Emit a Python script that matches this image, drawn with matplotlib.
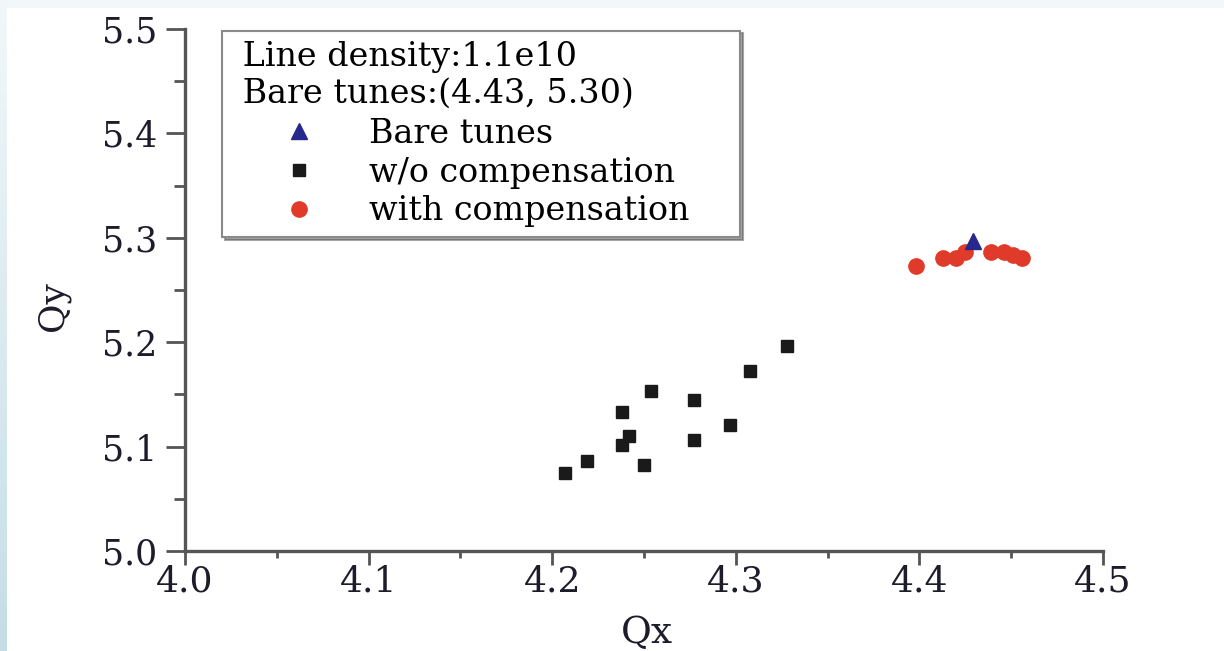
import numpy as np
import matplotlib
matplotlib.use("Agg")
import matplotlib.pyplot as plt
from matplotlib.patches import Rectangle
from matplotlib.ticker import MultipleLocator

# tune points
bare_qx = [4.429]
bare_qy = [5.297]

wo_qx = [4.207, 4.219, 4.238, 4.238, 4.242, 4.250, 4.254, 4.277, 4.277, 4.297, 4.308, 4.328]
wo_qy = [5.075, 5.086, 5.133, 5.102, 5.110, 5.082, 5.153, 5.145, 5.106, 5.121, 5.172, 5.196]

with_qx = [4.398, 4.413, 4.420, 4.425, 4.439, 4.446, 4.451, 4.456]
with_qy = [5.273, 5.281, 5.281, 5.286, 5.286, 5.286, 5.284, 5.281]

x_ticks = [4.0, 4.1, 4.2, 4.3, 4.4, 4.5]
y_ticks = [5.0, 5.1, 5.2, 5.3, 5.4, 5.5]

legend_title = " Line density:1.1e10\n Bare tunes:(4.43, 5.30)"

serif = "DejaVu Serif"

fig = plt.figure(figsize=(12.24, 6.51), dpi=100)
fig.patch.set_facecolor("white")
# pale blue strip along the top and the left side
fig.patches.append(Rectangle((0, 1 - 8 / 651), 1, 8 / 651, transform=fig.transFigure,
                             facecolor="#f2f8fa", edgecolor="none", zorder=-10))
strip = fig.add_axes([0, 0, 7 / 1224, 1])
grad = np.linspace(0, 1, 256).reshape(-1, 1)
strip.imshow(grad, aspect="auto", cmap=matplotlib.colors.LinearSegmentedColormap.from_list(
    "s", ["#f1f8fa", "#c6dde6"]), extent=[0, 1, 0, 1])
strip.axis("off")

ax = fig.add_axes([185 / 1224, 1 - 551 / 651, (1103 - 185) / 1224, (551 - 29) / 651])
ax.set_facecolor("none")

ax.plot(bare_qx, bare_qy, linestyle="none", marker="^", markersize=11,
        color="#27288c", label="Bare tunes", zorder=4)
ax.plot(wo_qx, wo_qy, linestyle="none", marker="s", markersize=9,
        color="#1a1a1a", label="w/o compensation", zorder=3)
ax.plot(with_qx, with_qy, linestyle="none", marker="o", markersize=11,
        color="#e03b2a", label="with compensation", zorder=3)

ax.set_xlim(4.0, 4.5)
ax.set_ylim(5.0, 5.5)
ax.set_xticks(x_ticks)
ax.set_yticks(y_ticks)
ax.set_xticklabels(["%.1f" % v for v in x_ticks], fontfamily=serif, fontsize=26)
ax.set_yticklabels(["%.1f" % v for v in y_ticks], fontfamily=serif, fontsize=25)
ax.xaxis.set_minor_locator(MultipleLocator(0.05))
ax.yaxis.set_minor_locator(MultipleLocator(0.05))

for s in ["top", "right"]:
    ax.spines[s].set_visible(False)
for s in ["left", "bottom"]:
    ax.spines[s].set_color("#555555")
    ax.spines[s].set_linewidth(2.4)
ax.xaxis.set_tick_params(which="major", direction="out", length=10, width=2, color="#555555", pad=0)
ax.xaxis.set_tick_params(which="minor", direction="out", length=5, width=2, color="#555555")
ax.yaxis.set_tick_params(which="major", direction="out", length=14, width=2, color="#555555", pad=6)
ax.yaxis.set_tick_params(which="minor", direction="out", length=8, width=2, color="#555555")
ax.tick_params(axis="both", labelcolor="#1c1c2a")

ax.set_xlabel("Qx", fontfamily=serif, fontsize=27, color="#1c1c2a", va="baseline")
ax.xaxis.set_label_coords(0.503, -0.176)
ax.set_ylabel("Qy", fontfamily=serif, fontsize=26, color="#1c1c2a", va="center")
ax.yaxis.set_label_coords(-0.144, 0.470)

leg = ax.legend(title=legend_title, loc="upper left",
                bbox_to_anchor=(0.0403, 0.5, 0.5643, 0.497), mode="expand",
                borderaxespad=0, prop={"family": serif, "size": 24},
                title_fontproperties={"family": serif, "size": 24},
                alignment="left", numpoints=1, handlelength=4.0, handletextpad=0.12,
                labelspacing=0.2, borderpad=0.3, fancybox=False, shadow=True,
                framealpha=1, edgecolor="#8a8a8a")
leg.get_frame().set_linewidth(1.5)
leg._legend_box.sep = 6

fig.savefig("out.png", dpi=100)
